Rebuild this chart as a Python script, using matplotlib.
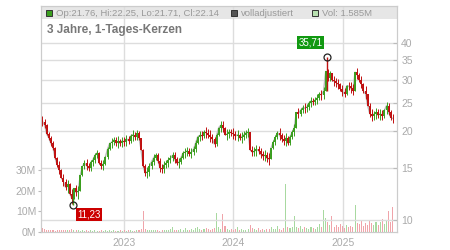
import numpy as np
import pandas as pd
import matplotlib
matplotlib.use('Agg')
from matplotlib import pyplot as plt
from matplotlib.ticker import FixedLocator, NullLocator

plt.rcParams['font.family'] = ['Liberation Sans', 'DejaVu Sans']

# weekly closes (EUR), starting 2022-04-04
start = '2022-04-04'
closes = [
    21.6, 21.0, 19.6, 19.0, 18.2, 17.6, 16.2, 15.4, 14.8, 13.9,
    13.5, 12.9, 13.2, 12.3, 11.8, 12.8, 12.4, 12.5, 14.2, 15.2,
    15.6, 15.3, 15.0, 15.7, 16.0, 16.6, 16.9, 15.6, 15.3, 15.5,
    16.4, 17.4, 18.2, 18.4, 18.7, 18.3, 18.5, 18.2, 18.6, 18.4,
    18.9, 18.6, 19.3, 19.5, 19.2, 19.7, 19.0, 17.3, 15.2, 14.4,
    14.6, 15.2, 15.8, 16.3, 16.6, 15.9, 15.0, 14.9, 15.4, 15.6,
    16.0, 16.2, 16.6, 16.1, 15.6, 15.7, 16.3, 16.9, 17.0, 17.2,
    16.8, 17.0, 17.4, 18.3, 19.2, 19.4, 19.3, 19.9, 19.8, 19.5,
    19.2, 18.8, 18.1, 19.4, 20.6, 21.0, 20.6, 19.5, 19.6, 19.9,
    19.8, 19.6, 19.3, 19.5, 19.0, 19.2, 19.5, 19.8, 19.9, 17.3,
    17.0, 17.1, 17.4, 17.2, 16.7, 16.5, 16.6, 16.2, 16.1, 17.6,
    18.4, 19.1, 19.8, 19.4, 18.9, 18.6, 19.0, 18.2, 19.2, 19.9,
    20.6, 23.2, 23.0, 23.6, 24.1, 24.0, 24.2, 25.0, 25.4, 25.2,
    25.6, 26.0, 26.8, 26.6, 27.5, 32.0, 30.4, 31.5, 29.8, 29.6,
    29.3, 28.9, 27.9, 27.2, 26.9, 28.6, 28.5, 28.0, 27.5, 31.8,
    31.2, 30.0, 29.0, 27.4, 26.8, 24.5, 23.0, 22.6, 22.9, 23.2,
    22.7, 23.0, 22.6, 23.6, 24.5, 23.2, 22.3, 22.14,
]
# weekly high-low range in percent
ranges = [
    8, 7, 9, 6, 8, 7, 9, 8, 10, 7,
    9, 8, 10, 9, 12, 9, 8, 10, 9, 8,
    7, 8, 6, 9, 7, 8, 6, 9, 7, 8,
    7, 9, 6, 8, 6, 7, 9, 6, 8, 7,
    8, 6, 7, 9, 6, 8, 7, 10, 14, 9,
    8, 10, 7, 9, 6, 8, 11, 7, 9, 6,
    8, 6, 7, 9, 6, 8, 7, 6, 8, 7,
    6, 8, 7, 9, 6, 8, 7, 6, 8, 7,
    9, 7, 8, 10, 7, 9, 8, 6, 8, 7,
    6, 8, 7, 9, 6, 8, 7, 6, 7, 10,
    8, 7, 9, 6, 8, 7, 9, 8, 10, 9,
    7, 8, 6, 9, 7, 8, 10, 7, 8, 7,
    9, 10, 8, 6, 7, 8, 6, 7, 8, 6,
    7, 8, 6, 8, 10, 16, 9, 8, 7, 8,
    7, 8, 6, 9, 7, 8, 6, 8, 9, 12,
    8, 7, 9, 8, 10, 8, 11, 9, 7, 8,
    7, 9, 8, 7, 10, 9, 8, 7,
]
# weekly volume in millions
volumes = [
    2.0, 1.4, 1.0, 1.2, 0.8, 1.0, 0.7, 0.9, 0.8, 1.1,
    0.9, 0.8, 1.2, 0.9, 1.5, 1.0, 0.8, 0.9, 0.7, 1.0,
    0.6, 0.8, 0.7, 0.9, 0.6, 0.8, 0.7, 0.6, 0.9, 0.7,
    0.8, 0.6, 0.9, 0.7, 0.8, 0.6, 0.7, 0.9, 0.6, 0.8,
    0.7, 0.9, 0.8, 0.6, 0.7, 1.0, 0.8, 1.4, 10.4, 1.6,
    1.2, 0.9, 1.0, 0.8, 1.1, 0.9, 0.7, 1.0, 0.8, 1.2,
    1.0, 1.3, 2.6, 1.0, 0.8, 1.1, 1.4, 0.9, 1.8, 1.2,
    1.0, 1.5, 1.2, 1.9, 2.4, 1.3, 1.1, 1.6, 2.0, 1.4,
    1.2, 1.5, 1.8, 9.4, 2.2, 1.6, 8.6, 2.8, 1.5, 1.2,
    1.6, 1.0, 1.3, 2.5, 1.1, 1.4, 1.0, 1.2, 1.6, 3.2,
    2.0, 1.5, 1.2, 2.0, 1.1, 1.3, 1.0, 1.7, 1.4, 2.2,
    1.6, 1.3, 2.8, 1.5, 1.2, 2.0, 23.4, 2.5, 1.8, 2.2,
    7.8, 2.6, 2.0, 3.0, 1.6, 2.4, 1.8, 1.5, 2.2, 1.8,
    1.6, 2.4, 3.8, 2.5, 10.7, 7.0, 4.8, 3.2, 7.8, 2.6,
    3.4, 2.2, 4.0, 2.8, 2.0, 3.6, 2.4, 3.0, 2.2, 13.2,
    4.2, 3.8, 5.4, 3.0, 4.6, 3.2, 6.0, 4.4, 3.6, 5.0,
    3.4, 4.8, 6.2, 4.0, 5.6, 10.2, 5.0, 12.0,
]
low_date, low_price = '2022-07-14', 11.23
high_date, high_price = '2024-11-08', 35.71
price_ticks = [10, 15, 20, 25, 30, 35, 40]
vol_ticks = [0, 10, 20, 30]
year_ticks = ['2023-01-01', '2024-01-01', '2025-01-01']
year_labels = ['2023', '2024', '2025']
header = 'Op:21.76, Hi:22.25, Lo:21.71, Cl:22.14'
title = '3 Jahre, 1-Tages-Kerzen'

dates = pd.date_range(start, periods=len(closes), freq='7D')
closes = np.array(closes)
opens = np.r_[21.9, closes[:-1]]
up = closes >= opens
mid = (opens + closes) / 2
half = mid * np.array(ranges) / 200
highs = np.maximum(np.maximum(opens, closes), mid + half)
lows = np.minimum(np.minimum(opens, closes), mid - half)

GREEN, RED = '#3a9e1e', '#c01010'
VGREEN, VRED = '#a8d9a0', '#f0a4aa'
GRID, LBL = '#dddddd', '#aaaaaa'

fig = plt.figure(figsize=(4.5, 2.5), dpi=100)
L, R, T, B = 41, 397, 6, 232
ax = fig.add_axes([L / 450, 1 - B / 250, (R - L) / 450, (B - T) / 250])
axp = ax.twinx()


def px(x, y):
    # figure pixel -> axes fraction
    return (x - L) / (R - L), (B - y) / (B - T)


# header band
ax.add_patch(plt.Rectangle((0, px(0, 19)[1]), 1, 1 - px(0, 19)[1],
                           transform=ax.transAxes, color='#e6e6e6', zorder=0, lw=0))
for d in year_ticks:
    ax.axvline(pd.Timestamp(d), color=GRID, lw=1, zorder=0.5)

# volume
ax.bar(dates, volumes, width=3.5, color=np.where(up, VGREEN, VRED), zorder=1)
ax.set_ylim(0, 110.2)
ax.yaxis.set_major_locator(FixedLocator(vol_ticks))
ax.set_yticklabels([f'{v}M' for v in vol_ticks])

# price
axp.set_yscale('log')
axp.set_ylim(9.10, 53.4)
for p in price_ticks:
    axp.axhline(p, color=GRID, lw=1, zorder=0.5)
cols = np.where(up, GREEN, RED)
axp.plot(dates, closes, color='#bbbbbb', lw=1.0, zorder=1)
axp.vlines(dates, lows, highs, colors=cols, lw=0.7, zorder=2)
axp.vlines(dates, opens, closes, colors=cols, lw=1.4, zorder=2)
axp.vlines(pd.Timestamp(low_date), low_price, 12.8, colors=GREEN, lw=1, zorder=2)
axp.vlines(pd.Timestamp(high_date), 27.5, high_price, colors=RED, lw=1, zorder=2)
axp.plot([pd.Timestamp(low_date), pd.Timestamp(high_date)], [low_price, high_price],
         ls='none', marker='o', ms=5, mfc='none', mec='#222222', mew=0.9, zorder=3)
axp.annotate('11,23', (pd.Timestamp(low_date), low_price), xytext=(11.5, -6.5),
             textcoords='offset points', ha='center', va='center', color='white', fontsize=7,
             bbox=dict(boxstyle='square,pad=0.15', fc='#cc0000', ec='none'), zorder=4)
axp.annotate('35,71', (pd.Timestamp(high_date), high_price), xytext=(-11.5, 10.5),
             textcoords='offset points', ha='center', va='center', color='white', fontsize=7,
             bbox=dict(boxstyle='square,pad=0.15', fc='#119911', ec='none'), zorder=4)
axp.yaxis.set_major_locator(FixedLocator(price_ticks))
axp.yaxis.set_minor_locator(NullLocator())
axp.set_yticklabels([str(p) for p in price_ticks])

ax.set_xlim(pd.Timestamp('2022-03-30'), pd.Timestamp('2025-06-30'))
ax.set_xticks([pd.Timestamp(d) for d in year_ticks])
ax.set_xticklabels(year_labels)

for a in (ax, axp):
    for s in a.spines.values():
        s.set_color('#cccccc')
ax.tick_params(axis='x', length=0, pad=4, labelsize=7.5, labelcolor=LBL)
ax.tick_params(axis='y', length=2.5, pad=1, width=0.8, color='#bbbbbb', labelsize=7.5, labelcolor=LBL)
axp.tick_params(axis='y', direction='in', length=3, pad=3, width=0.8, color='#bbbbbb',
                labelsize=7.5, labelcolor=LBL)

# header line
hy = px(0, 13)[1]
for x, fc, txt in [(49, '#3a9e1e', header), (234, '#555555', 'volladjustiert'), (315, '#b8e0b0', 'Vol: 1.585M')]:
    axp.plot([px(x, 0)[0]], [hy], marker='s', ms=4.3, mfc=fc, mec='#333333', mew=0.7,
             transform=axp.transAxes, clip_on=False, zorder=5)
    axp.text(px(x + 7, 0)[0], hy, txt, transform=axp.transAxes, fontsize=6.8, color='#999999',
             va='center', ha='left', zorder=5)
axp.text(px(47, 0)[0], px(0, 30)[1], title, transform=axp.transAxes, fontsize=8.5,
         fontweight='bold', color='#777777', va='center', ha='left', zorder=5)

fig.savefig('out.png', dpi=100)
